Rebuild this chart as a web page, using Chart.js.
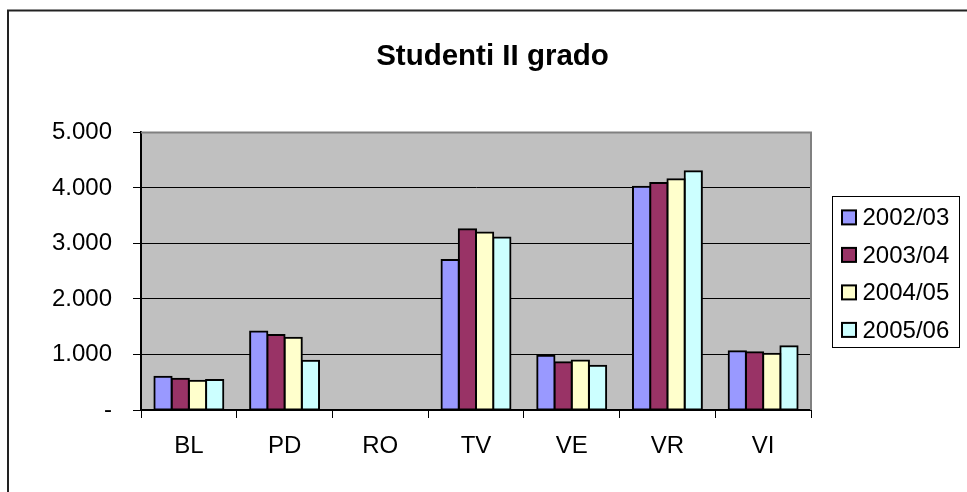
<!DOCTYPE html>
<html>
<head>
<meta charset="utf-8">
<script src="https://cdn.jsdelivr.net/npm/chart.js@4/dist/chart.umd.min.js"></script>
<style>
  html, body { margin: 0; padding: 0; background: #fff; overflow: hidden; width: 967px; height: 492px; }
  #wrap { position: absolute; left: 0; top: 0; width: 985px; height: 492px; }
</style>
</head>
<body>
<div id="wrap"><canvas id="c" width="985" height="492"></canvas></div>
<script>
// ---- data ----
const categories = ['BL', 'PD', 'RO', 'TV', 'VE', 'VR', 'VI'];
const seriesNames = ['2002/03', '2003/04', '2004/05', '2005/06'];
const s200203 = [600, 1415, null, 2700, 975, 4020, 1060];
const s200304 = [565, 1350, null, 3255, 860, 4090, 1040];
const s200405 = [525, 1300, null, 3195, 890, 4155, 1015];
const s200506 = [540, 885, null, 3105, 795, 4300, 1150];
const yTickLabels = ['-', '1.000', '2.000', '3.000', '4.000', '5.000'];
const titleText = 'Studenti II grado';

const seriesColors = ['#9999FF', '#993366', '#FFFFCC', '#CCFFFF'];
const seriesData = [s200203, s200304, s200405, s200506];

Chart.defaults.font.family = '"Liberation Sans", Arial, sans-serif';
Chart.defaults.color = '#000';

const bgPlugin = {
  id: 'bgPlugin',
  beforeDraw(chart) {
    const ctx = chart.ctx, a = chart.chartArea;
    ctx.save();
    // outer chart frame
    ctx.strokeStyle = '#222';
    ctx.lineWidth = 2;
    ctx.strokeRect(8, 10.5, 3000, 3000);
    // plot area background
    ctx.fillStyle = '#C0C0C0';
    ctx.fillRect(a.left, a.top, a.right - a.left, a.bottom - a.top);
    ctx.restore();
  },
  beforeDatasetsDraw(chart) {
    const ctx = chart.ctx, a = chart.chartArea;
    ctx.save();
    ctx.strokeStyle = '#808080';
    ctx.lineWidth = 2;
    ctx.beginPath();
    ctx.moveTo(a.left, a.top);
    ctx.lineTo(a.right, a.top);
    ctx.lineTo(a.right, a.bottom);
    ctx.stroke();
    ctx.restore();
  },
  afterDraw(chart) {
    // legend
    const ctx = chart.ctx, a = chart.chartArea;
    const ds = chart.data.datasets;
    const boxL = a.right + 21, boxW = 127, boxH = 151;
    const boxT = (a.top + a.bottom) / 2 - boxH / 2;
    ctx.save();
    ctx.fillStyle = '#fff';
    ctx.fillRect(boxL, boxT, boxW, boxH);
    ctx.strokeStyle = '#000';
    ctx.lineWidth = 1;
    ctx.strokeRect(Math.round(boxL) + 0.5, Math.round(boxT) + 0.5, boxW, boxH);
    ctx.font = '24px "Liberation Sans", Arial, sans-serif';
    ctx.textBaseline = 'middle';
    ctx.textAlign = 'left';
    ds.forEach((d, i) => {
      const cy = boxT + 21.7 + i * 37.5;
      const mx = boxL + 10;
      ctx.fillStyle = d.backgroundColor;
      ctx.fillRect(mx, cy - 7, 14, 14);
      ctx.strokeStyle = '#000';
      ctx.lineWidth = 2;
      ctx.strokeRect(mx, cy - 7, 14, 14);
      ctx.fillStyle = '#000';
      ctx.fillText(d.label, mx + 20.5, cy + 1);
    });
    ctx.restore();
  }
};

new Chart(document.getElementById('c'), {
  type: 'bar',
  data: {
    labels: categories,
    datasets: seriesNames.map((n, i) => ({
      label: n,
      data: seriesData[i],
      backgroundColor: seriesColors[i],
      borderColor: '#000',
      borderWidth: 2,
      borderSkipped: false,
      inflateAmount: 1,
      categoryPercentage: 0.72,
      barPercentage: 1.0
    }))
  },
  options: {
    responsive: false,
    animation: false,
    devicePixelRatio: 1,
    layout: { padding: 0 },
    plugins: {
      legend: { display: false },
      tooltip: { enabled: false },
      title: {
        display: true,
        text: titleText,
        color: '#000',
        font: { size: 29.5, weight: 'bold' },
        padding: { top: 39, bottom: 58 }
      }
    },
    scales: {
      x: {
        grid: { display: true, drawOnChartArea: false, drawTicks: true, tickLength: 8, color: '#000', lineWidth: 1, offset: true },
        border: { display: true, color: '#000', width: 2 },
        ticks: { font: { size: 24 }, color: '#000', padding: 14 },
        afterFit(scale) { scale.height = 82; }
      },
      y: {
        min: 0,
        max: 5000,
        grid: { display: true, color: '#000', lineWidth: 1, tickLength: 8, drawTicks: true },
        border: { display: true, color: '#000', width: 2 },
        ticks: {
          stepSize: 1000,
          font: { size: 24 },
          color: '#000',
          padding: 21,
          callback: (v, i) => yTickLabels[i]
        },
        afterFit(scale) { scale.width = 141; }
      },
      legendSpace: {
        position: 'right',
        display: true,
        grid: { display: false },
        border: { display: false },
        ticks: { display: false },
        afterFit(scale) { scale.width = 174; }
      }
    }
  },
  plugins: [bgPlugin]
});
</script>
</body>
</html>
